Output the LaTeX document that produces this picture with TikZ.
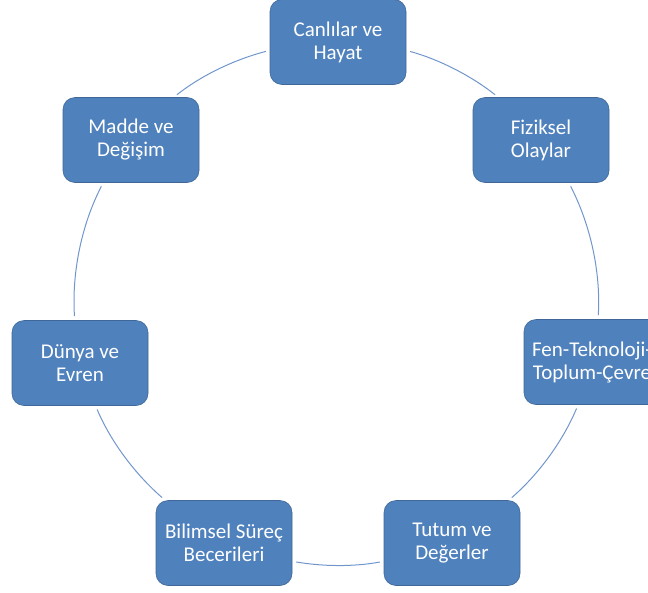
\documentclass[tikz,border=0pt]{standalone}
\usepackage{fontspec}
\setmainfont{Carlito}
\definecolor{kutumavi}{RGB}{79,129,189}
\definecolor{cembermavi}{RGB}{112,150,204}

\begin{document}
\begin{tikzpicture}[x=1pt, y=-1pt,
        kutu/.style={rectangle, rounded corners=12pt, fill=kutumavi,
            draw=kutumavi!80!black, line width=0.6pt,
            minimum width=136pt, minimum height=85pt,
            text=white, align=center, font=\fontsize{21}{23}\selectfont},
        cember/.style={draw=cembermavi, line width=1pt, looseness=0.86,
            shorten >=4pt, shorten <=4pt}]
            \useasboundingbox (0, 0) rectangle (648, 592);
            \node[kutu] (canli) at (338, 42) {
                Canlılar ve\\Hayat
            };
            \node[kutu] (fizik) at (541, 140) {
                Fiziksel\\Olaylar
            };
            \node[kutu] (fen) at (592, 362) {
                Fen-Teknoloji-\\Toplum-Çevre
            };
            \node[kutu] (tutum) at (452, 543) {
                Tutum ve\\Değerler
            };
            \node[kutu] (bilim) at (224, 543) {
                Bilimsel Süreç\\Becerileri
            };
            \node[kutu] (dunya) at (80, 363) {
                Dünya ve\\Evren
            };
            \node[kutu] (madde) at (131, 140) {
                Madde ve\\Değişim
            };
            % halka
            \draw[cember] (canli.-7.1) to[out=-15.5, in=141.7] (fizik.135);
            \draw[cember] (fizik.-57) to[out=-62.6, in=86.4] (fen.82.6);
            \draw[cember] (fen.-108.8) to[out=-112.8, in=41.1] (tutum.37.1);
            \draw[cember] (tutum.-165.5) to[out=-169.4, in=-9.7] (bilim.-15.1);
            \draw[cember] (bilim.144.8) to[out=138.9, in=-67] (dunya.-70.7);
            \draw[cember] (dunya.97.2) to[out=93.8, in=-117.4] (madde.-123);
            \draw[cember] (madde.45) to[out=38.3, in=194.6] (canli.-173.8);
        \end{tikzpicture}
\end{document}
